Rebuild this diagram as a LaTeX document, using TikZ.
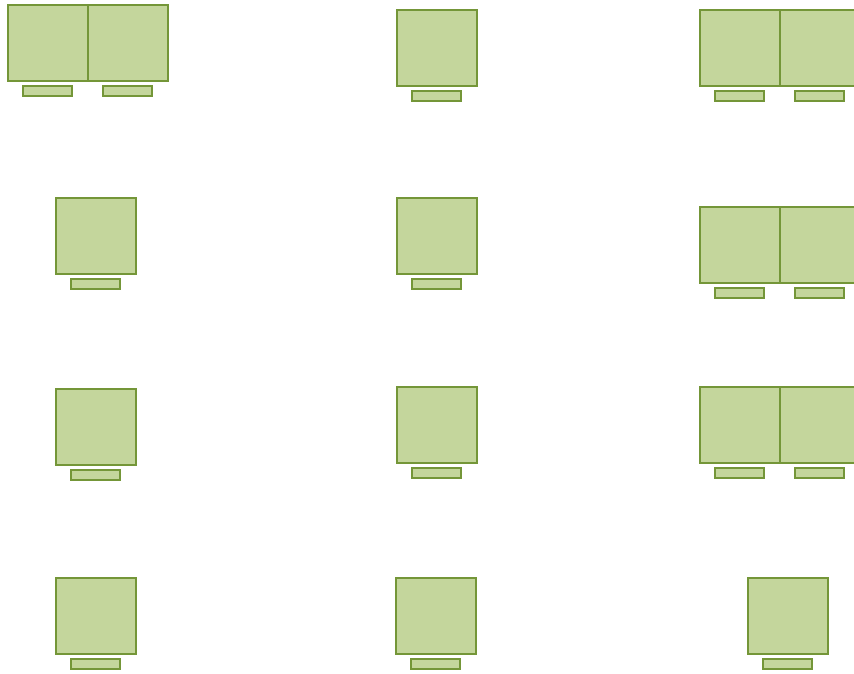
\documentclass[tikz,border=0pt]{standalone}
\usepackage{tikz}
\definecolor{deskfill}{RGB}{196,214,156}
\definecolor{deskline}{RGB}{116,150,56}

% one desk (80 x 76) with its chair below
\newcommand{\deskset}[2]{%
  \draw[desk] (#1,#2) rectangle ++(80,76);
  \draw[chair] (#1+15,#2+81) rectangle ++(49,10);
}

\begin{document}
\begin{tikzpicture}[x=1pt,y=-1pt,
  desk/.style={fill=deskfill, draw=deskline, line width=1.5pt},
  chair/.style={fill=deskfill, draw=deskline, line width=1.5pt}]

\useasboundingbox (0,0) rectangle (854,674);

% fila 1
\deskset{8}{5}
\deskset{88}{5}
\deskset{397}{10}
\deskset{700}{10}
\deskset{780}{10}

% fila 2
\deskset{56}{198}
\deskset{397}{198}
\deskset{700}{207}
\deskset{780}{207}

% fila 3
\deskset{56}{389}
\deskset{397}{387}
\deskset{700}{387}
\deskset{780}{387}

% fila 4
\deskset{56}{578}
\deskset{396}{578}
\deskset{748}{578}

\end{tikzpicture}
\end{document}
